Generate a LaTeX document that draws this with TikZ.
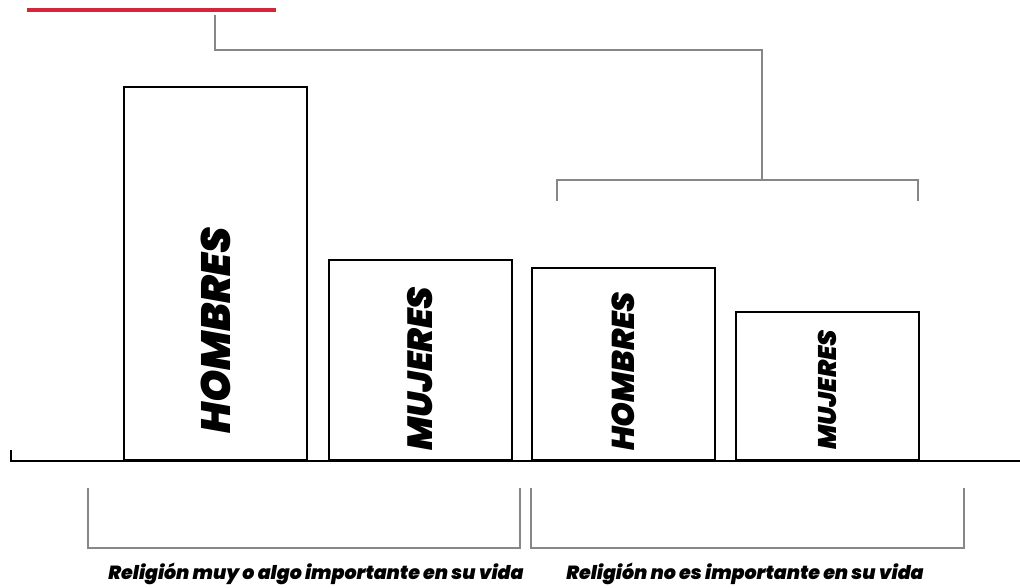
\documentclass[tikz,border=0pt]{standalone}
\usepackage{fontspec}
\setmainfont{Poppins}[BoldFont={Poppins Black}, BoldItalicFont={Poppins Black Italic}]
\usepackage{tikz}
\usetikzlibrary{positioning}
\definecolor{titlered}{RGB}{214,36,60}
\definecolor{guidegray}{RGB}{135,135,135}
\newcommand{\barfont}[1]{\fontsize{#1}{#1}\selectfont\bfseries\itshape}
\tikzstyle{bar} = [draw, line width=2pt, anchor=south west, inner sep=0pt]
\tikzstyle{barlabel} = [rotate=90, anchor=west, inner sep=0pt]
\tikzstyle{caption} = [inner sep=0pt, anchor=base, font=\barfont{19}]
\tikzstyle{line} = [draw, guidegray, line width=1.2pt]
\tikzstyle{axis} = [draw, line width=2pt]

\begin{document}
\begin{tikzpicture}[x=1pt, y=-1pt]
			\useasboundingbox (0,0) rectangle (1020,588);
			% title rule
			\path [draw, titlered, line width=4.5pt] (27,10) -- (276,10);

			\node [bar, minimum width=183, minimum height=373] (hom1) at (123,461) {};
			\node [bar, minimum width=183, minimum height=200] (muj1) at (328,461) {};
			\node [bar, minimum width=183, minimum height=192] (hom2) at (531,461) {};
			\node [bar, minimum width=183, minimum height=148] (muj2) at (735,461) {};

			\node [barlabel, font=\barfont{41}] (hom1text) at ([yshift=27pt]hom1.south) {HOMBRES};
			\node [barlabel, font=\barfont{35}] (muj1text) at ([yshift=10pt]muj1.south) {MUJERES};
			\node [barlabel, font=\barfont{31.5}] (hom2text) at ([yshift=10pt]hom2.south) {HOMBRES};
			\node [barlabel, font=\barfont{25.5}] (muj2text) at ([yshift=11pt]muj2.south) {MUJERES};

			\node [caption] (imp) at (316,579) {Religión muy o algo importante en su vida};
			\node [caption] (noimp) at (745,579) {Religión no es importante en su vida};

			\coordinate (stem) at (215,15);
			\coordinate (elbow) at (762,50);
			\coordinate (brace) at (762,180);
			\coordinate (braceL) at (557,201);
			\coordinate (braceR) at (918,201);
			\coordinate (impL) at (88,488);
			\coordinate (impR) at (520,488);
			\coordinate (noimpL) at (531,488);
			\coordinate (noimpR) at (964,488);
			\coordinate (axisL) at (11,450);
			\coordinate (axisR) at (1020,461);

			\path [line] (stem) |- (elbow) -- (brace);
			\path [line] (braceL) |- (brace) -| (braceR);
			\path [line] (impL) |- ([yshift=-60pt]impR) -- (impR);
			\path [line] (noimpL) |- ([yshift=-60pt]noimpR) -- (noimpR);
			\path [axis] (axisL) |- (axisR);
		\end{tikzpicture}
\end{document}
